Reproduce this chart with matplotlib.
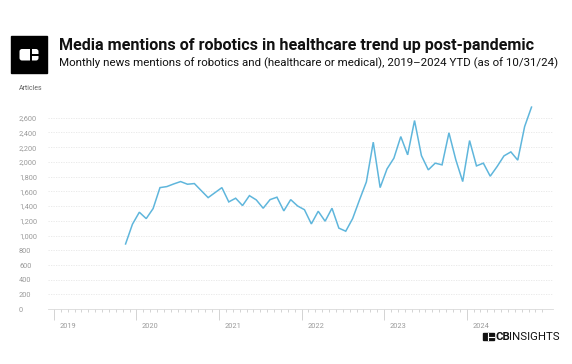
import matplotlib
matplotlib.use("Agg")
import matplotlib.pyplot as plt
from matplotlib.patches import Rectangle, FancyBboxPatch
import matplotlib.transforms as mtransforms
import numpy as np

W, H = 572, 364

# Monthly article counts, Nov 2019 .. Oct 2024
start_month_index = 10  # months since Jan 2019
articles = [886, 1154, 1317, 1230, 1366, 1651, 1665, 1701, 1733, 1697,
            1706, 1610, 1515, 1583, 1651, 1457, 1507, 1407, 1542, 1484,
            1371, 1488, 1521, 1335, 1488, 1402, 1351, 1158, 1330, 1195,
            1371, 1101, 1059, 1230, 1484, 1729, 2268, 1651, 1905, 2051,
            2344, 2096, 2562, 2086, 1892, 1983, 1960, 2395, 2028, 1733,
            2290, 1946, 1983, 1806, 1937, 2082, 2136, 2024, 2480, 2744]
years = ["2019", "2020", "2021", "2022", "2023", "2024"]
y_ticks = list(range(0, 2601, 200))

title = "Media mentions of robotics in healthcare trend up post-pandemic"
subtitle = "Monthly news mentions of robotics and (healthcare or medical), 2019\u20132024 YTD (as of 10/31/24)"

plt.rcParams['font.family'] = ['Roboto', 'DejaVu Sans']

fig = plt.figure(figsize=(W / 100, H / 100), dpi=100)

def fx(px):
    return px / W

def fy(py):
    return 1 - py / H

# main axes
left, right, top, bottom = 48.3, 552.7, 103.0, 309.2
ax = fig.add_axes([fx(left), fy(bottom), (right - left) / W, (bottom - top) / H])
x = np.arange(len(articles)) + start_month_index + 0.42
ax.plot(x, articles, color='#5fb6dc', lw=1.1, solid_joinstyle='miter')
ax.set_xlim(-0.81, 72.5)
ax.set_ylim(0, 2800)

for s in ['top', 'right', 'left']:
    ax.spines[s].set_visible(False)
ax.spines['bottom'].set_color('#d9d9d9')
ax.spines['bottom'].set_linewidth(0.6)

ax.set_yticks(y_ticks)
ax.set_yticklabels([f"{v:,}" for v in y_ticks])
ax.tick_params(axis='y', length=0, pad=(left - 19) * 0.72, labelsize=5.3, labelcolor='#9a9a9a')
for lab in ax.get_yticklabels():
    lab.set_horizontalalignment('left')
for v in y_ticks[1:]:
    ax.axhline(v, color='#e6e6e6', lw=0.6, ls=(0, (1.5, 1.5)), zorder=0)

ax.set_xticks(np.arange(0, 72, 12))
ax.set_xticklabels(years)
ax.set_xticks(np.arange(0, 72), minor=True)
ax.tick_params(axis='x', which='major', length=8, width=0.6, color='#cccccc',
               labelsize=5.3, labelcolor='#9a9a9a', pad=2)
ax.tick_params(axis='x', which='minor', length=2.5, width=0.6, color='#cccccc')
offset = mtransforms.ScaledTranslation(5.6 / 100, 0, fig.dpi_scale_trans)
for lab in ax.get_xticklabels():
    lab.set_horizontalalignment('left')
    lab.set_transform(lab.get_transform() + offset)

# header
fig.text(fx(58.5), fy(45.5), title, fontsize=11.6, fontweight='bold', color='#111111',
         ha='left', va='center')
fig.text(fx(58.5), fy(63.5), subtitle, fontsize=8.25, color='#111111', ha='left', va='center')
fig.text(fx(19), fy(88.9), "Articles", fontsize=5.0, color='#666666', ha='left', va='center')

# logo square
lax = fig.add_axes([0, 0, 1, 1], zorder=5)
lax.set_xlim(0, W)
lax.set_ylim(H, 0)
lax.axis('off')
lax.add_patch(Rectangle((11, 36), 36, 37, color='#000000'))
lax.add_patch(FancyBboxPatch((19.5, 49), 19, 11.5, boxstyle="round,pad=0,rounding_size=2.5",
                             fc='white', ec='none'))
lax.plot([30.5, 30.5], [48.5, 61], color='black', lw=1.4)
lax.plot([30.5, 39], [54.8, 54.8], color='black', lw=1.4)

# CB Insights footer logo
lax.add_patch(Rectangle((483, 333), 11, 7, color='#111111'))
lax.plot([487.5, 487.5], [333, 340], color='white', lw=0.8)
lax.plot([487.5, 494], [336.5, 336.5], color='white', lw=0.8)
fig.text(fx(495.5), fy(336.8), "CB", fontsize=8.2, fontweight='bold', color='#111111',
         ha='left', va='center')
fig.text(fx(509.5), fy(336.8), "INSIGHTS", fontsize=8.2, color='#111111',
         ha='left', va='center')

fig.savefig("out.png", dpi=100)
